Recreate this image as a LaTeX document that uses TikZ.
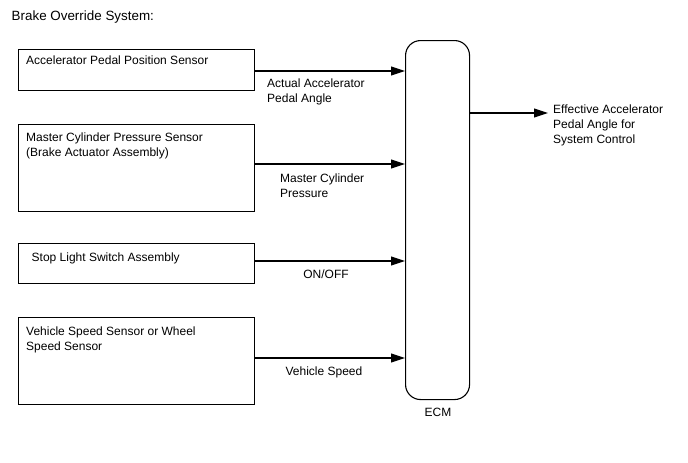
\documentclass[tikz,border=0pt]{standalone}
\usepackage{fontspec}
\setmainfont{Liberation Sans}
\usetikzlibrary{arrows.meta}
\begin{document}
\begin{tikzpicture}[x=1pt,y=-1pt,
  every node/.style={font=\fontsize{12}{14.7}\selectfont},
  box/.style={draw, line width=1.1pt, rectangle, minimum width=236pt, anchor=north west, inner sep=0pt},
  txt/.style={anchor=north west, align=left, inner sep=0pt},
  lbl/.style={align=left, inner sep=0pt},
  arr/.style={line width=1.1pt, -{Triangle[length=14pt,width=9pt]}}]
\useasboundingbox (0,0) rectangle (688,463);
\node[txt, font=\fontsize{13.4}{16}\selectfont] (title) at (11.5,11) {Brake Override System:};
% boxes
\node[box, minimum height=41pt] (b1) at (18,49) {};
\node[box, minimum height=87pt] (b2) at (18,124) {};
\node[box, minimum height=40pt] (b3) at (18,243) {};
\node[box, minimum height=87pt] (b4) at (18,317) {};
\node[txt] (t1) at (26,56) {Accelerator Pedal Position Sensor};
\node[txt] (t2) at (26,133) {Master Cylinder Pressure Sensor\\(Brake Actuator Assembly)};
\node[txt] (t3) at (31.5,253) {Stop Light Switch Assembly};
\node[txt] (t4) at (26,327) {Vehicle Speed Sensor or Wheel\\Speed Sensor};
% ECM
\node[draw, line width=1.1pt, rounded corners=15pt, minimum width=64pt, minimum height=359pt, anchor=north west, inner sep=0pt] (ecm) at (405,40) {};
\node[lbl, anchor=north] (ecml) at (438,408) {ECM};
% connection points
\coordinate (y1) at (0,71);
\coordinate (y2) at (0,164);
\coordinate (y3) at (0,261);
\coordinate (y4) at (0,358);
\coordinate (y5) at (0,113);
\coordinate (outend) at (548,113);
\draw[arr] (b1.east |- y1) -- (ecm.west |- y1);
\draw[arr] (b2.east |- y2) -- (ecm.west |- y2);
\draw[arr] (b3.east |- y3) -- (ecm.west |- y3);
\draw[arr] (b4.east |- y4) -- (ecm.west |- y4);
\draw[arr] (ecm.east |- y5) -- (outend);
% labels
\node[lbl, anchor=north west] (l1) at (267,79) {Actual Accelerator\\Pedal Angle};
\node[lbl, anchor=north west] (l2) at (280,174) {Master Cylinder\\Pressure};
\node[lbl, anchor=north] (l3) at (326,270) {ON/OFF};
\node[lbl, anchor=north] (l4) at (324,367) {Vehicle Speed};
\node[lbl, anchor=north west] (l5) at (553,105) {Effective Accelerator\\Pedal Angle for\\System Control};
\end{tikzpicture}
\end{document}
